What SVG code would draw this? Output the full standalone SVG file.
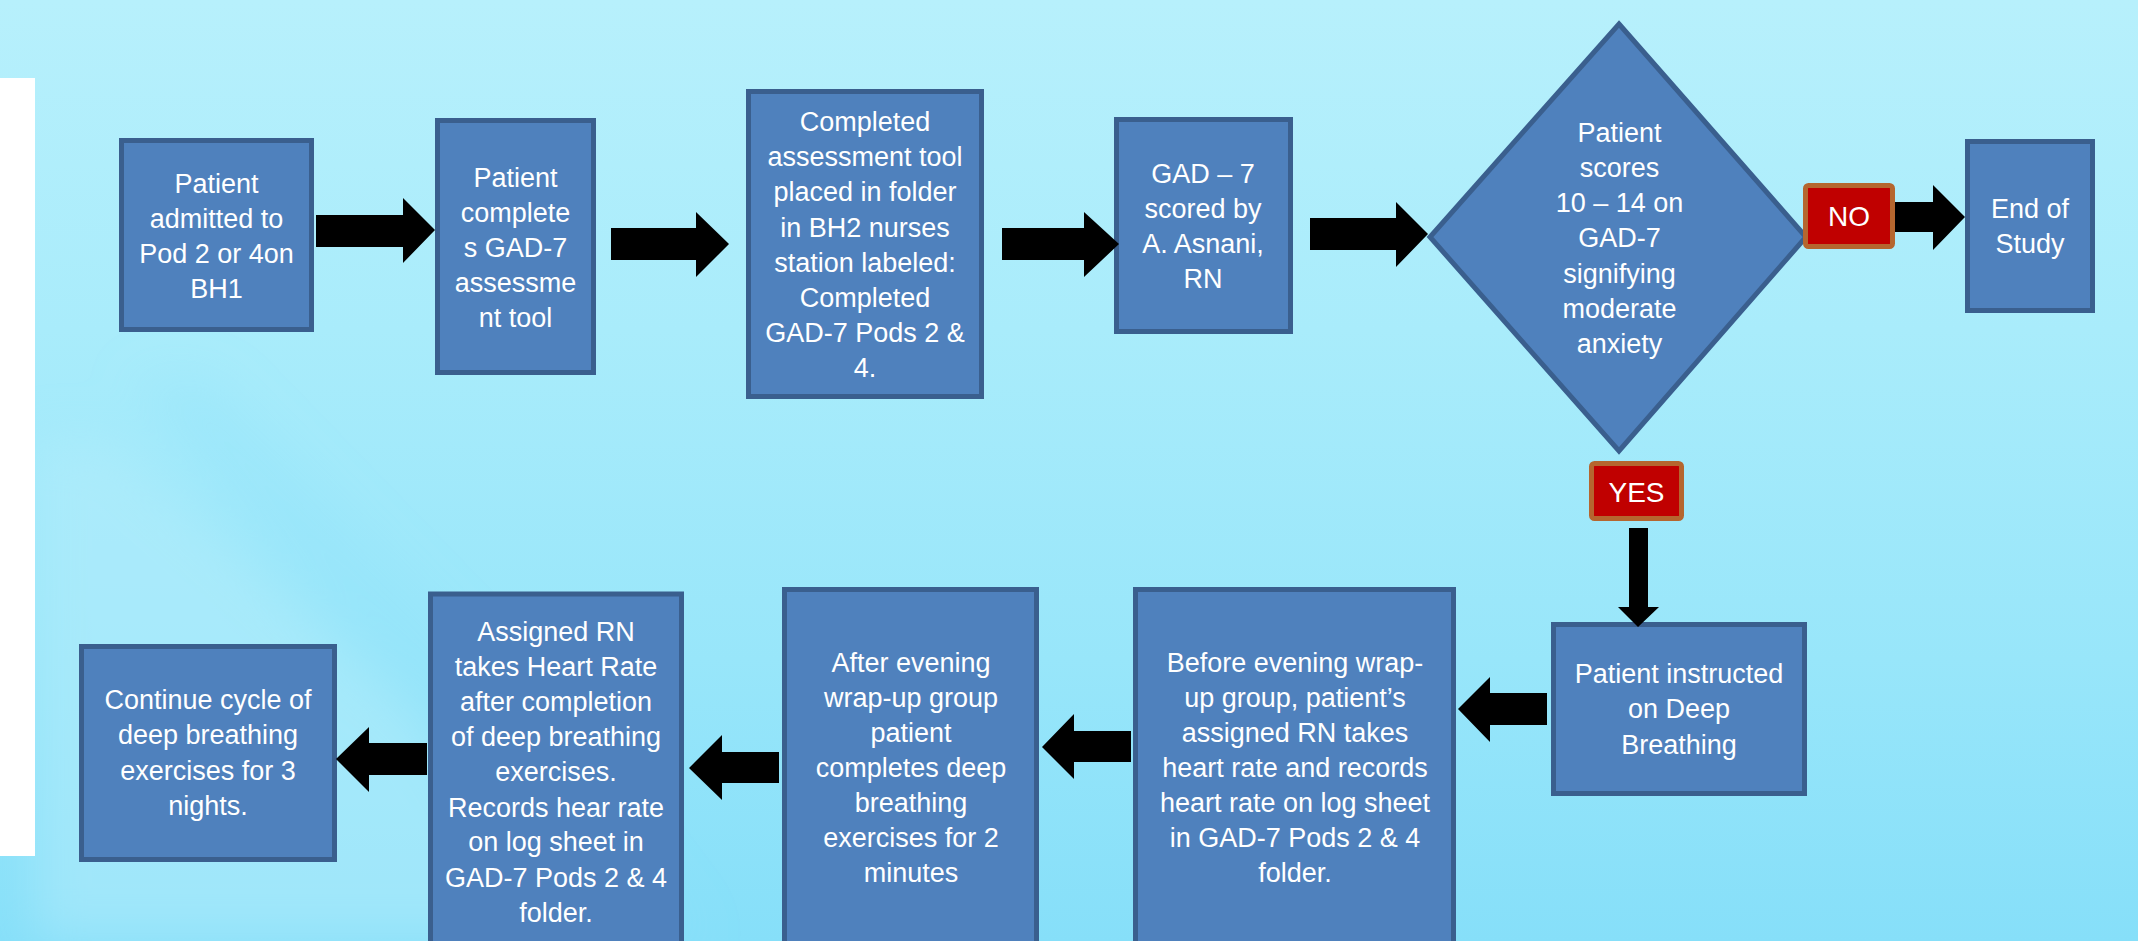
<svg xmlns="http://www.w3.org/2000/svg" width="2138" height="941" viewBox="0 0 2138 941">
<defs>
<linearGradient id="bg" x1="0" y1="0" x2="0" y2="1">
<stop offset="0" stop-color="#b7f0fc"/>
<stop offset="0.35" stop-color="#a9ecfb"/>
<stop offset="0.7" stop-color="#98e6fa"/>
<stop offset="1" stop-color="#86dff9"/>
</linearGradient>
<filter id="soft" x="-20%" y="-20%" width="140%" height="140%"><feGaussianBlur stdDeviation="25"/></filter>
<style>
.box{fill:#4f81bd;stroke:#3a5f8e;stroke-width:5}
.lbl{fill:#ffffff;font-family:"Liberation Sans",Arial,sans-serif;font-size:27px;text-anchor:middle}
.tag{fill:#c00000;stroke:#b5662f;stroke-width:5}
.tagt{fill:#ffffff;font-family:"Liberation Sans",Arial,sans-serif;font-size:28px;text-anchor:middle}
.arr{fill:#000000}
</style>
</defs>
<rect x="0" y="0" width="2138" height="941" fill="url(#bg)"/>
<g filter="url(#soft)">
<polygon points="35,440 110,440 420,720 560,941 35,941" fill="#b3ecfb" opacity="0.55"/>
<polygon points="130,380 210,380 520,700 700,941 600,941 420,720" fill="#90e1f9" opacity="0.3"/>
</g>
<rect x="0" y="78" width="35" height="778" fill="#ffffff"/>

<g id="n1"><rect class="box" x="121.5" y="140.5" width="190" height="189"/>
<text class="lbl"><tspan x="216.5" y="193">Patient</tspan><tspan x="216.5" y="228">admitted to</tspan><tspan x="216.5" y="263">Pod 2 or 4on</tspan><tspan x="216.5" y="298">BH1</tspan></text></g>

<g id="n2"><rect class="box" x="437.5" y="120.5" width="156" height="252"/>
<text class="lbl"><tspan x="515.5" y="187">Patient</tspan><tspan x="515.5" y="222">complete</tspan><tspan x="515.5" y="257">s GAD-7</tspan><tspan x="515.5" y="292">assessme</tspan><tspan x="515.5" y="327">nt tool</tspan></text></g>

<g id="n3"><rect class="box" x="748.5" y="91.5" width="233" height="305"/>
<text class="lbl"><tspan x="865" y="131">Completed</tspan><tspan x="865" y="166">assessment tool</tspan><tspan x="865" y="201">placed in folder</tspan><tspan x="865" y="237">in BH2 nurses</tspan><tspan x="865" y="272">station labeled:</tspan><tspan x="865" y="307">Completed</tspan><tspan x="865" y="342">GAD-7 Pods 2 &amp;</tspan><tspan x="865" y="377">4.</tspan></text></g>

<g id="n4"><rect class="box" x="1116.5" y="119.5" width="174" height="212"/>
<text class="lbl"><tspan x="1203" y="183">GAD – 7</tspan><tspan x="1203" y="218">scored by</tspan><tspan x="1203" y="253">A. Asnani,</tspan><tspan x="1203" y="288">RN</tspan></text></g>

<g id="n5"><polygon class="box" stroke-width="4" points="1619,24 1806,237 1619,451 1430,237"/>
<text class="lbl"><tspan x="1619.5" y="142">Patient</tspan><tspan x="1619.5" y="177">scores</tspan><tspan x="1619.5" y="212">10 – 14 on</tspan><tspan x="1619.5" y="247">GAD-7</tspan><tspan x="1619.5" y="283">signifying</tspan><tspan x="1619.5" y="318">moderate</tspan><tspan x="1619.5" y="353">anxiety</tspan></text></g>

<g id="n6"><rect class="box" x="1967.5" y="141.5" width="125" height="169"/>
<text class="lbl"><tspan x="2030" y="218">End of</tspan><tspan x="2030" y="253">Study</tspan></text></g>

<g id="n7"><rect class="box" x="1553.5" y="624.5" width="251" height="169"/>
<text class="lbl"><tspan x="1679" y="683">Patient instructed</tspan><tspan x="1679" y="718">on Deep</tspan><tspan x="1679" y="754">Breathing</tspan></text></g>

<g id="n8"><rect class="box" x="1135.5" y="589.5" width="318" height="400"/>
<text class="lbl"><tspan x="1295" y="672">Before evening wrap-</tspan><tspan x="1295" y="707">up group, patient’s</tspan><tspan x="1295" y="742">assigned RN takes</tspan><tspan x="1295" y="777">heart rate and records</tspan><tspan x="1295" y="812">heart rate on log sheet</tspan><tspan x="1295" y="847">in GAD-7 Pods 2 &amp; 4</tspan><tspan x="1295" y="882">folder.</tspan></text></g>

<g id="n9"><rect class="box" x="784.5" y="589.5" width="252" height="400"/>
<text class="lbl"><tspan x="911" y="672">After evening</tspan><tspan x="911" y="707">wrap-up group</tspan><tspan x="911" y="742">patient</tspan><tspan x="911" y="777">completes deep</tspan><tspan x="911" y="812">breathing</tspan><tspan x="911" y="847">exercises for 2</tspan><tspan x="911" y="882">minutes</tspan></text></g>

<g id="n10"><rect class="box" x="430.5" y="594" width="251" height="400"/>
<text class="lbl"><tspan x="556" y="641">Assigned RN</tspan><tspan x="556" y="676">takes Heart Rate</tspan><tspan x="556" y="711">after completion</tspan><tspan x="556" y="746">of deep breathing</tspan><tspan x="556" y="781">exercises.</tspan><tspan x="556" y="817">Records hear rate</tspan><tspan x="556" y="851">on log sheet in</tspan><tspan x="556" y="887">GAD-7 Pods 2 &amp; 4</tspan><tspan x="556" y="922">folder.</tspan></text></g>

<g id="n11"><rect class="box" x="81.5" y="646.5" width="253" height="213"/>
<text class="lbl"><tspan x="208" y="709">Continue cycle of</tspan><tspan x="208" y="744">deep breathing</tspan><tspan x="208" y="780">exercises for 3</tspan><tspan x="208" y="815">nights.</tspan></text></g>

<g id="connectors">
<polygon class="arr" points="316,215 403,215 403,198 435,230 403,263 403,247 316,247"/>
<polygon class="arr" points="611,228 696,228 696,212 729,244 696,277 696,260 611,260"/>
<polygon class="arr" points="1002,228 1084,228 1084,212 1119,244 1084,277 1084,260 1002,260"/>
<polygon class="arr" points="1310,218 1396,218 1396,202 1428,234 1396,267 1396,250 1310,250"/>
<polygon class="arr" points="1895,202 1933,202 1933,185 1965,217 1933,250 1933,232 1895,232"/>
<polygon class="arr" points="1629,528 1648,528 1648,607 1659,607 1638,627 1618,607 1629,607"/>
<polygon class="arr" points="1547,693 1490,693 1490,677 1458,709 1490,742 1490,725 1547,725"/>
<polygon class="arr" points="1131,731 1074,731 1074,714 1042,747 1074,779 1074,762 1131,762"/>
<polygon class="arr" points="779,752 722,752 722,735 689,768 722,800 722,783 779,783"/>
<polygon class="arr" points="427,743 369,743 369,727 336,759 369,792 369,775 427,775"/>
</g>

<g id="tag-no"><rect class="tag" x="1805.5" y="185.5" width="87" height="61" rx="3"/>
<text class="tagt" x="1849" y="226">NO</text></g>
<g id="tag-yes"><rect class="tag" x="1591.5" y="463.5" width="90" height="55" rx="3"/>
<text class="tagt" x="1636.5" y="502">YES</text></g>
</svg>
